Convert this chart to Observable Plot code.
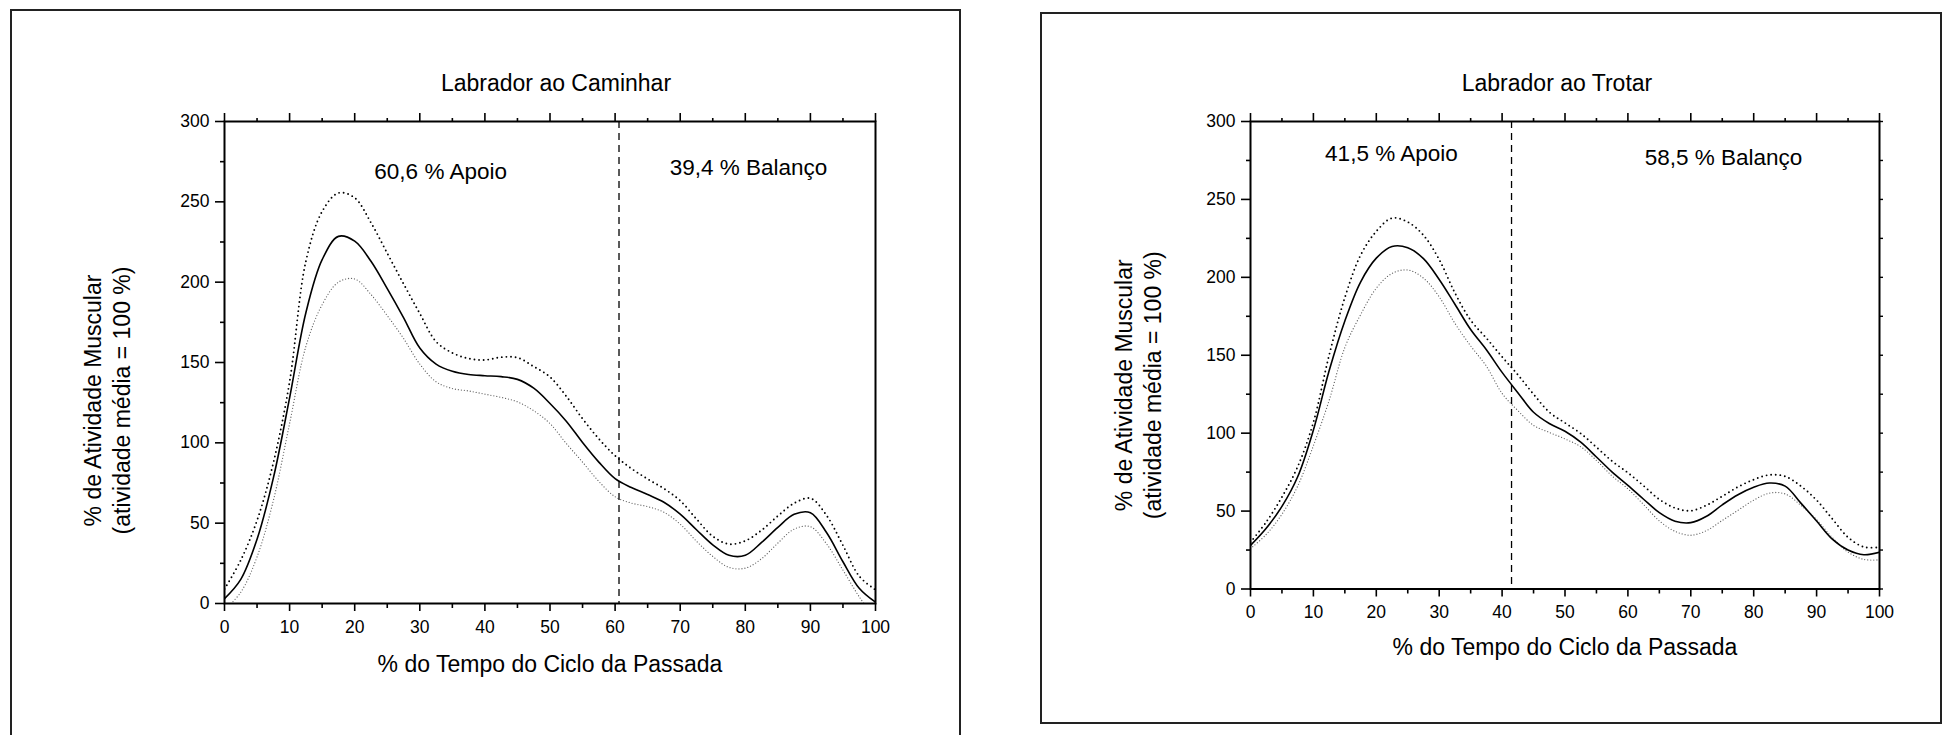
<!DOCTYPE html>
<html><head><meta charset="utf-8">
<script src="https://cdn.jsdelivr.net/npm/d3@7"></script>
<script src="https://cdn.jsdelivr.net/npm/@observablehq/plot@0.6"></script>
<style>
html,body{margin:0;padding:0;background:#fff;}
#page{position:relative;width:1950px;height:735px;overflow:hidden;background:#fff;font-family:"Liberation Sans",Arial,sans-serif;}
.chart{position:absolute;top:0;width:975px;height:735px;}
.box{position:absolute;border:2px solid #222;box-sizing:border-box;pointer-events:none;}
</style></head><body>
<div id="page">
  <div class="chart" id="walk" style="left:0px"></div>
  <div class="chart" id="trot" style="left:975px"></div>
  <div class="box" style="left:10px;top:9px;width:951px;height:760px"></div>
  <div class="box" style="left:1040px;top:12px;width:902px;height:712px"></div>
</div>
<script>
// ---- shared axis / grid values ----
const cycleX = [0,2.5,5,7.5,10,12.5,15,17.5,20,22.5,25,27.5,30,32.5,35,37.5,40,42.5,45,47.5,50,52.5,55,57.5,60,62.5,65,67.5,70,72.5,75,77.5,80,82.5,85,87.5,90,92.5,95,97.5,100];
const xMajorTicks = [0,10,20,30,40,50,60,70,80,90,100];
const xMinorTicks = [5,15,25,35,45,55,65,75,85,95];
const yMajorTicks = [0,50,100,150,200,250,300];
const yMinorTicks = [25,75,125,175,225,275];
const yAllTicks = [0,25,50,75,100,125,150,175,200,225,250,275,300];
const xLabel = "% do Tempo do Ciclo da Passada";
const yLabel = "% de Atividade Muscular\n(atividade média = 100 %)";

// ---- Labrador ao Caminhar ----
const walkTitle = "Labrador ao Caminhar";
const walkMean  = [3,15,40,78,128,181,214,228.5,225.5,213,196,178,159,149,144.5,142.5,141.8,141.2,139.5,134,124.5,113.5,100.2,88,77.7,72.2,67.8,63,55.6,45.9,36.5,30,30,38,47.4,55.5,56.5,44,26,9.5,0.8];
const walkUpper = [9,27,51.7,87.5,138,213,244,255.5,252.5,237,218,199,180.5,163,156,152.5,151.6,153.3,153,147.5,141,129,115,102.5,92,84,77.5,71.5,64,52.6,41.8,37,39,45.6,54.5,62.4,65.5,54.7,36.2,17,8.5];
const walkLower = [-4,7,29,64,112,160,186,200,202,192.3,179.2,165,149,138,133.8,132.3,130.3,128.3,125.5,120,112,99.6,88,76,66.5,62.5,60.3,56.8,49.4,38.8,29.3,22.5,22,27.9,37.6,46.3,47.8,37,20.8,4.2,-10];
const walkSplit = 60.6;
const walkNoteText = ["60,6 % Apoio", "39,4 % Balanço"];
const walkNoteX = [33.2, 80.5];
const walkNoteY = [269, 271];

// ---- Labrador ao Trotar ----
const trotTitle = "Labrador ao Trotar";
const trotMean  = [28,39,53,72,102,140,172,197,212.3,219.8,219,212,198.6,182.7,166.5,153.5,139,126,113.4,106.2,101.2,94.2,84.7,75,66.5,57.6,49,43.5,42.6,46.7,54,60.5,65.3,68,66,55.1,43.6,32,25,22,23.6];
const trotUpper = [30,43,59,78.5,107,150,187,214.2,229.5,238,235.5,227,211.4,190,172.5,161,149,137.5,125,113.5,106.6,99.8,91,82,74.6,66.2,57.5,52,50.2,53.8,59.5,65.5,70.2,73.2,72.3,66,57,45,33.2,27,26.8];
const trotLower = [26,35,48,66,92,121,155,176,193,202.5,204.7,199.5,187.5,170.5,156,143,125.5,114.5,105,100.5,96.3,91.3,82.5,72.5,64.3,54.2,43.7,37,34.5,37.5,44,50.5,57,61.5,61,53.7,44.5,33,23.7,19,18.7];
const trotSplit = 41.5;
const trotNoteText = ["41,5 % Apoio", "58,5 % Balanço"];
const trotNoteX = [22.4, 75.2];
const trotNoteY = [279.3, 276.9];

function panel(o) {
  const rows = cycleX.map((x, i) => ({x, mean: o.mean[i], upper: o.upper[i], lower: o.lower[i]}));
  const blank = () => "";
  const marks = [
    Plot.line(rows, {x: "x", y: "lower", curve: "catmull-rom", stroke: "#666", strokeWidth: 1.3, strokeDasharray: "0,3", strokeLinecap: "round", clip: true}),
    Plot.line(rows, {x: "x", y: "upper", curve: "catmull-rom", stroke: "#000", strokeWidth: 1.9, strokeDasharray: "0,4.6", strokeLinecap: "round", clip: true}),
    Plot.line(rows, {x: "x", y: "mean", curve: "catmull-rom", stroke: "#000", strokeWidth: 1.6, clip: true}),
    Plot.ruleX([o.split], {x: d => d, stroke: "#000", strokeWidth: 1.3, strokeDasharray: "7,5"}),
    Plot.frame({stroke: "#000", strokeWidth: 2}),
    Plot.axisX({ticks: xMajorTicks, tickSize: 8, tickPadding: 9, strokeWidth: 1.6, fontSize: 17.5, label: null}),
    Plot.axisX({ticks: xMinorTicks, tickSize: 5, strokeWidth: 1.6, tickFormat: blank, label: null}),
    Plot.axisX({anchor: "top", ticks: xMajorTicks, tickSize: 9, strokeWidth: 1.6, tickFormat: blank, label: null}),
    Plot.axisX({anchor: "top", ticks: xMinorTicks, tickSize: 4, strokeWidth: 1.6, tickFormat: blank, label: null}),
    Plot.axisY({ticks: yMajorTicks, tickSize: 9, tickPadding: 6, strokeWidth: 1.6, fontSize: 17.5, label: null}),
    Plot.axisY({ticks: yMinorTicks, tickSize: 4, strokeWidth: 1.6, tickFormat: blank, label: null}),
    Plot.text(o.noteText, {x: (d, i) => o.noteX[i], y: (d, i) => o.noteY[i], text: d => d, fontSize: 22.5, fill: "#000"}),
    Plot.text([o.title], {frameAnchor: "top", text: d => d, dy: -38, dx: o.titleDx, fontSize: 23, lineAnchor: "middle", textAnchor: "middle", fill: "#000"}),
    Plot.text([xLabel], {frameAnchor: "bottom", text: d => d, dy: o.xLabelDy, fontSize: 23, lineAnchor: "middle", textAnchor: "middle", fill: "#000"}),
    Plot.text([yLabel], {frameAnchor: "left", text: d => d, rotate: -90, dx: o.yLabelDx, dy: o.yLabelDy, fontSize: 23, lineHeight: 1.22, lineAnchor: "middle", textAnchor: "middle", fill: "#000"})
  ];
  if (o.rightTicks) {
    marks.push(Plot.axisY({anchor: "right", ticks: yAllTicks, tickSize: 3, strokeWidth: 1.4, tickFormat: blank, label: null}));
  }
  return Plot.plot({
    width: 975,
    height: 735,
    marginTop: 121,
    marginLeft: o.marginLeft,
    marginRight: o.marginRight,
    marginBottom: o.marginBottom,
    style: {fontFamily: "'Liberation Sans', Arial, sans-serif", color: "#000", background: "transparent", overflow: "visible"},
    x: {domain: [0, 100]},
    y: {domain: [0, 300]},
    marks
  });
}

document.getElementById("walk").append(panel({
  mean: walkMean, upper: walkUpper, lower: walkLower, split: walkSplit,
  title: walkTitle, noteText: walkNoteText, noteX: walkNoteX, noteY: walkNoteY,
  marginLeft: 224, marginRight: 100, marginBottom: 132,
  titleDx: 6, xLabelDy: 61, yLabelDx: -118, yLabelDy: 38, rightTicks: false
}));
document.getElementById("trot").append(panel({
  mean: trotMean, upper: trotUpper, lower: trotLower, split: trotSplit,
  title: trotTitle, noteText: trotNoteText, noteX: trotNoteX, noteY: trotNoteY,
  marginLeft: 275, marginRight: 71, marginBottom: 146.5,
  titleDx: -8, xLabelDy: 59, yLabelDx: -113, yLabelDy: 30, rightTicks: true
}));
</script>
</body></html>
